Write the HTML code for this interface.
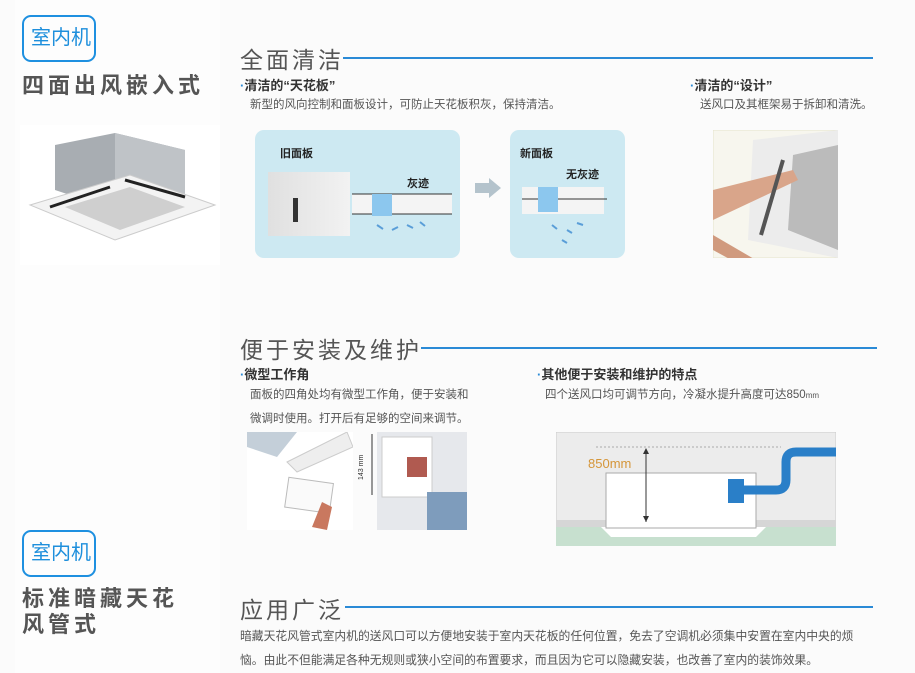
<!DOCTYPE html>
<html><head><meta charset="utf-8"><style>
*{margin:0;padding:0;box-sizing:border-box}
body{width:915px;height:673px;background:#fbfbfb;position:relative;overflow:hidden;font-family:"Liberation Sans","Noto Sans CJK SC",sans-serif;color:#555}
.a{position:absolute;white-space:nowrap}
.badge{position:absolute;width:74px;height:47px;border:2px solid #1e90e0;border-radius:9px;color:#1e8fdc;font-size:20px;padding:9px 0 0 7px;white-space:nowrap;line-height:24px}
.big{font-weight:bold;font-size:22px;color:#555;letter-spacing:4px}
.h{font-size:23px;color:#555;letter-spacing:3px}
.ln{position:absolute;height:1.5px;background:#2a8ad6}
.sub{font-weight:bold;font-size:13px;color:#333}
.sub b{color:#2a8ad6}
.d{font-size:11.5px;color:#555}
.panel{position:absolute;background:#cde9f2;border-radius:9px}
</style></head><body>
<div class="a" style="left:15px;top:0;width:205px;height:673px;background:#fdfdfd"></div>
<div class="badge" style="left:22px;top:15px">室内机</div>
<div class="a big" style="left:22px;top:68px">四面出风嵌入式</div>
<svg class="a" style="left:20px;top:125px" width="200" height="140">
<rect width="200" height="140" fill="#fff"/>
<polygon points="35,20 95,8 165,25 165,70 95,85 35,65" fill="#a8adb2"/>
<polygon points="95,8 165,25 165,70 95,55" fill="#bfc3c7"/>
<polygon points="10,80 110,50 195,80 95,115" fill="#f3f3f3" stroke="#ccc"/>
<polygon points="45,82 110,62 165,82 100,105" fill="#cfcfcf"/>
<line x1="30" y1="82" x2="90" y2="62" stroke="#222" stroke-width="3"/>
<line x1="105" y1="55" x2="165" y2="72" stroke="#222" stroke-width="3"/>
</svg>
<div class="a h" style="left:240px;top:41px">全面清洁</div>
<div class="ln" style="left:343px;top:57px;width:530px"></div>
<div class="a sub" style="left:240px;top:75px"><b>·</b>清洁的“天花板”</div>
<div class="a d" style="left:250px;top:96px">新型的风向控制和面板设计，可防止天花板积灰，保持清洁。</div>
<div class="panel" style="left:255px;top:130px;width:205px;height:128px"></div>
<div class="a" style="left:280px;top:145px;font-size:11px;font-weight:bold;color:#222">旧面板</div>
<div class="a" style="left:268px;top:172px;width:82px;height:64px;background:linear-gradient(90deg,#e0e0e0,#f2f2f2)"></div>
<div class="a" style="left:293px;top:198px;width:5px;height:24px;background:#333"></div>
<svg class="a" style="left:352px;top:170px" width="108" height="70"><rect x="0" y="24" width="100" height="20" fill="#f4f4f4"/><path d="M0 24H100M0 44H100" stroke="#333"/><rect x="20" y="24" width="20" height="22" fill="#8cc7ee"/><g stroke="#5a9ed8" stroke-width="2"><path d="M25 55l6 4M40 60l6-3M55 55l6 3M68 52l5 4"/></g></svg>
<div class="a" style="left:407px;top:175px;font-size:11px;font-weight:bold;color:#222">灰迹</div>
<svg class="a" style="left:475px;top:178px" width="26" height="20"><polygon points="0,5 14,5 14,0 26,10 14,20 14,15 0,15" fill="#b4c3cc"/></svg>
<div class="panel" style="left:510px;top:130px;width:115px;height:128px"></div>
<div class="a" style="left:520px;top:145px;font-size:11px;font-weight:bold;color:#222">新面板</div>
<div class="a" style="left:566px;top:166px;font-size:11px;font-weight:bold;color:#222">无灰迹</div>
<svg class="a" style="left:522px;top:185px" width="100" height="65"><rect x="0" y="2" width="82" height="27" fill="#f4f4f4"/><path d="M0 14H85" stroke="#333"/><rect x="16" y="2" width="20" height="25" fill="#8cc7ee"/><g stroke="#5a9ed8" stroke-width="2"><path d="M30 40l5 4M45 45l5 3M55 38l6 2M40 55l5 3"/></g></svg>
<div class="a sub" style="left:690px;top:75px"><b>·</b>清洁的“设计”</div>
<div class="a d" style="left:700px;top:96px">送风口及其框架易于拆卸和清洗。</div>
<svg class="a" style="left:713px;top:130px" width="125" height="128"><rect width="125" height="128" fill="#f7f6ee" stroke="#e6e4cc"/><polygon points="40,10 125,0 125,128 35,110" fill="#ececec"/><polygon points="80,25 125,15 125,120 75,100" fill="#bbb"/><path d="M0 60 L80 40 L85 50 L0 90Z" fill="#d9a58a"/><path d="M0 120 L55 150 L60 140 L0 105Z" fill="#d09a7e"/><line x1="70" y1="30" x2="48" y2="105" stroke="#555" stroke-width="4"/></svg>
<div class="a h" style="left:240px;top:331px">便于安装及维护</div>
<div class="ln" style="left:421px;top:347px;width:456px"></div>
<div class="a sub" style="left:240px;top:364px"><b>·</b>微型工作角</div>
<div class="a d" style="left:250px;top:386px">面板的四角处均有微型工作角，便于安装和</div>
<div class="a d" style="left:250px;top:410px">微调时使用。打开后有足够的空间来调节。</div>
<svg class="a" style="left:247px;top:432px" width="106" height="98"><rect width="106" height="98" fill="#fff"/><polygon points="0,0 50,0 30,25 0,15" fill="#c4cfd9"/><polygon points="40,30 100,0 106,15 50,40" fill="#eee" stroke="#ccc"/><rect x="40" y="48" width="45" height="30" fill="#fafafa" stroke="#bbb" transform="rotate(8 60 60)"/><path d="M65 95 L75 70 L85 75 L80 98Z" fill="#c9785f"/></svg>
<div class="a" style="left:358px;top:480px;font-size:7px;transform:rotate(-90deg);transform-origin:left top;color:#333">143 mm</div>
<svg class="a" style="left:368px;top:432px" width="8" height="65"><line x1="4" y1="2" x2="4" y2="63" stroke="#333"/></svg>
<svg class="a" style="left:377px;top:432px" width="90" height="98"><rect width="90" height="98" fill="#e6e8ec"/><rect x="5" y="5" width="50" height="60" fill="#fff" stroke="#ccc"/><rect x="30" y="25" width="20" height="20" fill="#b05a50"/><rect x="50" y="60" width="40" height="38" fill="#7e9cbc"/></svg>
<div class="a sub" style="left:537px;top:364px"><b>·</b>其他便于安装和维护的特点</div>
<div class="a d" style="left:545px;top:386px">四个送风口均可调节方向，冷凝水提升高度可达850<span style="font-size:8px">mm</span></div>
<svg class="a" style="left:556px;top:432px" width="280" height="114">
<rect width="280" height="114" fill="#ececec" stroke="#ccc"/>
<rect x="0" y="95" width="280" height="19" fill="#c7e0cf"/>
<rect x="0" y="88" width="280" height="7" fill="#d6d6d6"/>
<polygon points="45,95 210,95 200,105 55,105" fill="#fff"/>
<rect x="50" y="41" width="150" height="55" fill="#fff" stroke="#aaa"/>
<line x1="40" y1="15" x2="225" y2="15" stroke="#aaa" stroke-dasharray="2,2"/>
<line x1="90" y1="17" x2="90" y2="90" stroke="#333"/>
<polygon points="87,22 93,22 90,16" fill="#333"/><polygon points="87,84 93,84 90,90" fill="#333"/>
<text x="32" y="36" font-size="13" fill="#d5963a" font-family="Liberation Sans">850mm</text>
<rect x="172" y="47" width="16" height="24" fill="#2a7fc8"/>
<path d="M188 58 H220 Q230 58 230 48 V30 Q230 20 240 20 H280" stroke="#2a7fc8" stroke-width="9" fill="none"/>
</svg>
<div class="badge" style="left:22px;top:530px">室内机</div>
<div class="a big" style="left:22px;top:586px;line-height:26px">标准暗藏天花<br>风管式</div>
<div class="a h" style="left:240px;top:591px">应用广泛</div>
<div class="ln" style="left:345px;top:606px;width:528px"></div>
<div class="a d" style="left:240px;top:627px;font-size:11.8px">暗藏天花风管式室内机的送风口可以方便地安装于室内天花板的任何位置，免去了空调机必须集中安置在室内中央的烦</div>
<div class="a d" style="left:240px;top:651px;font-size:11.8px">恼。由此不但能满足各种无规则或狭小空间的布置要求，而且因为它可以隐藏安装，也改善了室内的装饰效果。</div>
</body></html>
